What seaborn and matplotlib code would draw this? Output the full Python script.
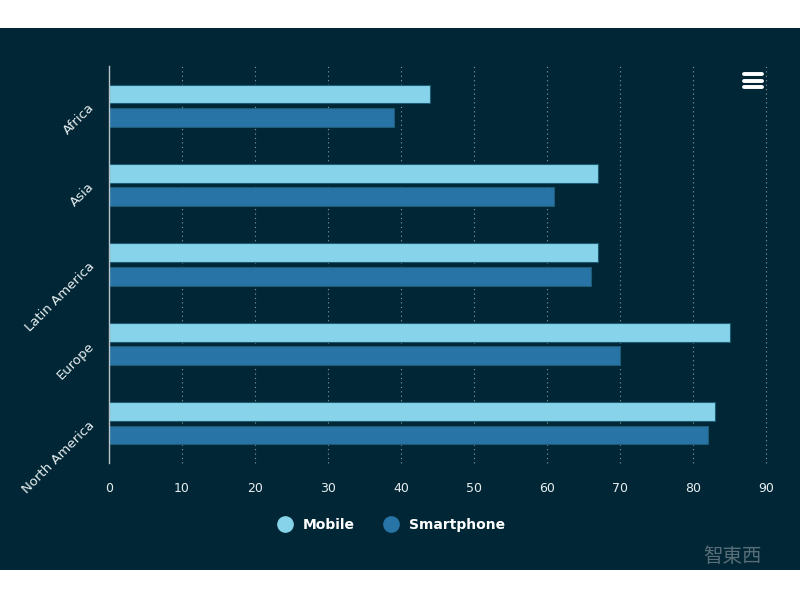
import pandas as pd
import matplotlib.pyplot as plt
import matplotlib.patches as mpatches
from matplotlib.lines import Line2D
import seaborn as sns

# values
regions = ['Africa', 'Asia', 'Latin America', 'Europe', 'North America']
mobile = [44, 67, 67, 85, 83]
smartphone = [39, 61, 66, 70, 82]
x_ticks = [0, 10, 20, 30, 40, 50, 60, 70, 80, 90]

df = pd.DataFrame({
    'Region': regions * 2,
    'Value': mobile + smartphone,
    'Series': ['Mobile'] * len(regions) + ['Smartphone'] * len(regions),
})

bg = '#012736'
colors = {'Mobile': '#87d4ea', 'Smartphone': '#2874a6'}

sns.set_style('dark')
plt.rcParams['font.family'] = ['DejaVu Sans', 'Noto Sans CJK SC']

fig = plt.figure(figsize=(8, 6), dpi=100, facecolor='white')
# dark panel between the white strips
fig.patches.append(mpatches.Rectangle((0, 30 / 600), 1, 542 / 600, transform=fig.transFigure,
                                      facecolor=bg, edgecolor='none', zorder=-5))

ax = fig.add_axes([109 / 800, 1 - 463 / 600, 657 / 800, 397 / 600])
ax.set_zorder(2)
ax.set_facecolor(bg)

sns.barplot(data=df, y='Region', x='Value', hue='Series', order=regions,
            palette=colors, saturation=1, width=0.59, gap=0.19, orient='h', ax=ax,
            edgecolor='#1d5c74', linewidth=0.8, legend=False)

ax.set_xlim(0, 90)
ax.set_ylim(4.5, -0.5)
ax.set_xticks(x_ticks)
ax.set_xticklabels([str(t) for t in x_ticks], color='#e8eef0', fontsize=9)
ax.tick_params(axis='x', length=0, pad=14)
ax.tick_params(axis='y', length=0, pad=12)
for lbl in ax.get_yticklabels():
    lbl.set_rotation(45)
    lbl.set_ha('right')
    lbl.set_va('center')
    lbl.set_rotation_mode('anchor')
    lbl.set_color('#e8eef0')
    lbl.set_fontsize(9.5)
ax.set_xlabel('')
ax.set_ylabel('')

ax.grid(False)
for t in x_ticks[1:]:
    ax.axvline(t, color='#8a9aa3', linestyle=(0, (1, 3)), linewidth=0.8, zorder=0, clip_on=False)
for s in ['top', 'right', 'bottom']:
    ax.spines[s].set_visible(False)
ax.spines['left'].set_color('#b8c2c8')
ax.spines['left'].set_linewidth(1)

# legend at bottom
handles = [Line2D([], [], marker='o', linestyle='', markersize=11,
                  markerfacecolor=colors[k], markeredgecolor=colors[k], label=k)
           for k in ['Mobile', 'Smartphone']]
leg = fig.legend(handles=handles, loc='center', bbox_to_anchor=(0.485, 1 - 525 / 600),
                 ncol=2, frameon=False, handletextpad=0.3, columnspacing=1.6,
                 prop={'weight': 'bold', 'size': 10})
for txt in leg.get_texts():
    txt.set_color('white')

# menu icon
for yy in [74, 80.5, 87]:
    fig.add_artist(Line2D([744 / 800, 762 / 800], [1 - yy / 600, 1 - yy / 600],
                          color='white', linewidth=2.8, solid_capstyle='round', zorder=10))

# watermark
fig.text(0.915, 1 - 557 / 600, '智東西', family=['Noto Sans CJK SC', 'DejaVu Sans'],
         color='#7d8c93', fontsize=14, ha='center', va='center', alpha=0.7, zorder=10)

fig.savefig('out.png', dpi=100, facecolor='white')
